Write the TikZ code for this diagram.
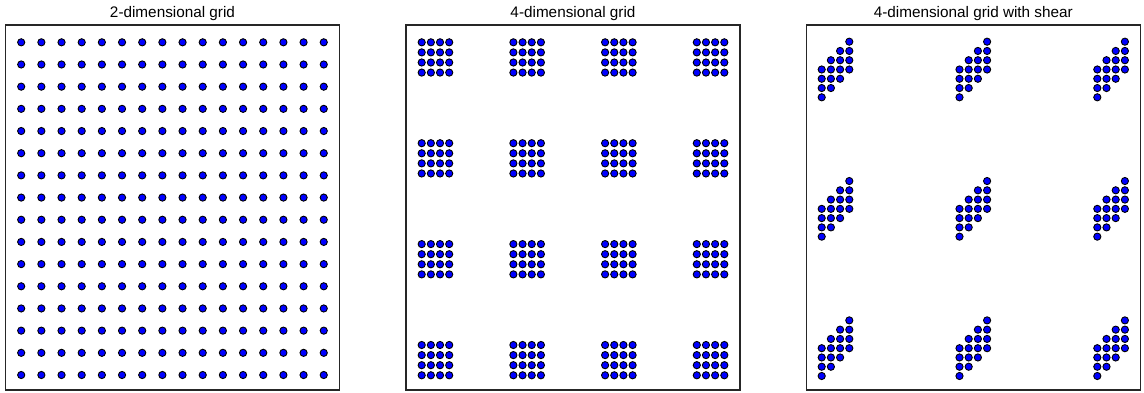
\documentclass[tikz,border=0pt]{standalone}
\usepackage{fontspec}
\setmainfont{Liberation Sans}
\begin{document}
\begin{tikzpicture}[x=1pt,y=-1pt,
  frame/.style={draw=black!85, line width=1.1pt},
  pt/.style={fill=blue, draw=black, line width=0.9pt},
  ttl/.style={font=\fontsize{15.3}{18}\selectfont, inner sep=0pt, anchor=base}]
\useasboundingbox (0,0) rectangle (1144,392);
% panel frames
\draw[frame] (5.5,25) rectangle (339.5,390);
\draw[frame] (406,25) rectangle (740,390);
\draw[frame] (806.3,25) rectangle (1140.3,390);
% titles
\node[ttl] (t1) at (172.5,17.5) {2-dimensional grid};
\node[ttl] (t2) at (573,17.5) {4-dimensional grid};
\node[ttl] (t3) at (973.3,17.5) {4-dimensional grid with shear};
% panel 1: 16 x 16 grid
\foreach \i in {0,...,15}{
  \foreach \j in {0,...,15}{
    \filldraw[pt] ({21.2+20.17*\i},{42.3+22.18*\j}) circle (3.6);
  }
}
% panel 2: 4 x 4 clusters of 4 x 4
\foreach \I in {0,...,3}{
  \foreach \J in {0,...,3}{
    \foreach \i in {0,...,3}{
      \foreach \j in {0,...,3}{
        \filldraw[pt] ({421.7+91.7*\I+9.17*\i},{42.3+100.9*\J+10.09*\j}) circle (3.6);
      }
    }
  }
}
% panel 3: 3 x 3 sheared clusters
\foreach \I in {0,...,2}{
  \foreach \J in {0,...,2}{
    \foreach \i in {0,...,3}{
      \foreach \j in {0,...,3}{
        \filldraw[pt] ({821.7+137.8*\I+9.2*\i},{97.3+139.35*\J-9.27*(\i+\j)}) circle (3.6);
      }
    }
  }
}
\end{tikzpicture}
\end{document}
